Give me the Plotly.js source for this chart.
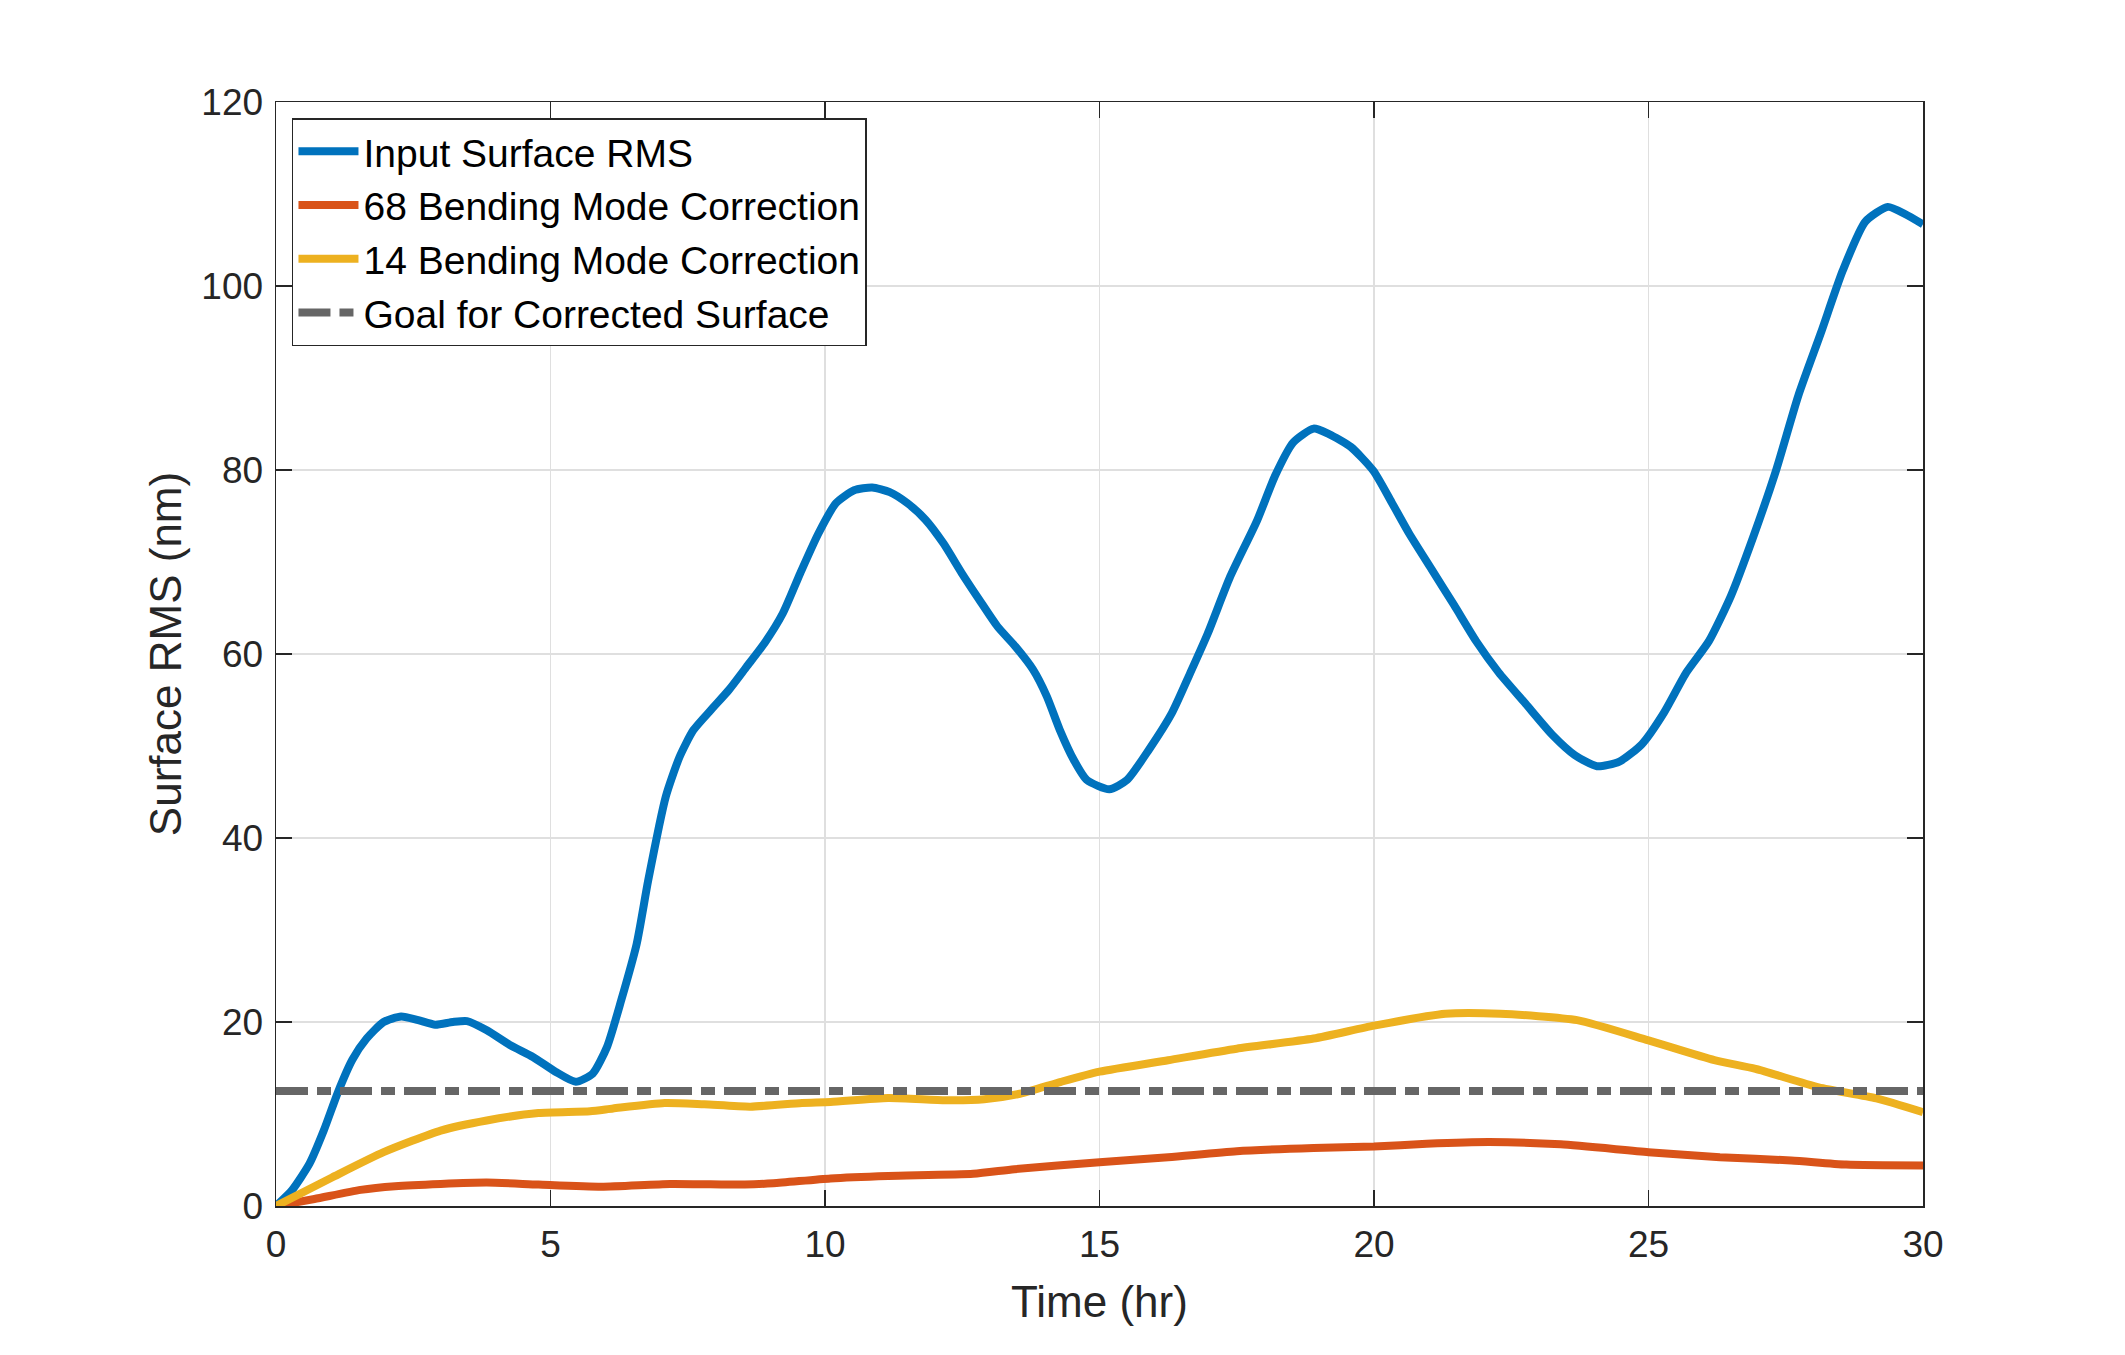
<!DOCTYPE html>
<html>
<head>
<meta charset="utf-8">
<script src="https://cdn.plot.ly/plotly-3.0.1.min.js"></script>
<style>
  html, body { margin: 0; padding: 0; background: #fff; }
  #chart { width: 2125px; height: 1355px; }
</style>
</head>
<body>
<div id="chart"></div>
<script>
// Input surface RMS (nm) vs time (hr)
var tInput = [0, 0.29, 0.61, 0.87, 1.13, 1.39, 1.65, 1.96, 2.28, 2.59, 2.9, 3.22, 3.48, 3.84, 4.26, 4.68, 5.09, 5.46, 5.77, 6.03, 6.29, 6.57, 6.78, 7.1, 7.35, 7.6, 7.92, 8.25, 8.57, 8.9, 9.23, 9.55, 9.88, 10.2, 10.53, 10.86, 11.18, 11.5, 11.83, 12.16, 12.49, 12.81, 13.14, 13.47, 13.79, 14.04, 14.28, 14.53, 14.77, 15.18, 15.5, 15.9, 16.32, 16.65, 16.97, 17.38, 17.87, 18.2, 18.53, 18.9, 19.18, 19.58, 19.99, 20.32, 20.64, 21.05, 21.46, 21.86, 22.27, 22.76, 23.25, 23.66, 24.06, 24.47, 24.88, 25.28, 25.69, 26.1, 26.5, 26.9, 27.32, 27.73, 28.14, 28.54, 28.95, 29.36, 29.68, 30];
var vInput = [0, 1.7, 4.6, 8.2, 12.4, 15.9, 18.2, 20.0, 20.6, 20.2, 19.7, 20.0, 20.1, 19.1, 17.5, 16.2, 14.6, 13.5, 14.4, 17.3, 22.4, 28.5, 35.4, 44.5, 48.8, 51.7, 53.9, 56.1, 58.6, 61.2, 64.4, 68.8, 73.1, 76.4, 77.8, 78.1, 77.6, 76.4, 74.6, 72.0, 68.8, 65.9, 63.0, 60.8, 58.3, 55.4, 51.7, 48.5, 46.3, 45.3, 46.3, 49.6, 53.6, 57.9, 62.2, 68.4, 74.5, 79.4, 83.0, 84.5, 83.9, 82.5, 79.9, 76.5, 73.1, 69.2, 65.3, 61.4, 58.0, 54.6, 51.2, 49.0, 47.8, 48.3, 50.2, 53.6, 58.0, 61.4, 66.3, 72.6, 79.9, 88.1, 94.9, 101.7, 107.0, 108.6, 107.8, 106.7];

// 68 bending mode correction
var t68 = [0, 0.7, 1.54, 2.17, 3.0, 3.84, 4.78, 5.93, 7.18, 8.54, 9.06, 10.1, 11.15, 12.7, 13.45, 15.0, 16.25, 17.5, 18.9, 20.0, 20.96, 22.1, 23.4, 25.0, 26.3, 27.6, 28.6, 30];
var v68 = [0, 0.76, 1.75, 2.15, 2.4, 2.55, 2.33, 2.1, 2.4, 2.33, 2.47, 3.0, 3.27, 3.5, 4.0, 4.76, 5.3, 5.96, 6.3, 6.47, 6.76, 6.95, 6.7, 5.85, 5.3, 4.95, 4.5, 4.4];

// 14 bending mode correction
var t14 = [0, 1.02, 1.96, 3.0, 3.84, 4.78, 5.72, 6.14, 7.08, 7.8, 8.64, 9.58, 10.1, 11.15, 12.2, 12.9, 13.55, 14.3, 15.0, 16.25, 17.5, 18.9, 20.0, 21.3, 22.3, 23.7, 25.0, 26.2, 26.95, 28.1, 29.15, 30];
var v14 = [0, 3.1, 5.85, 8.2, 9.3, 10.1, 10.3, 10.6, 11.2, 11.05, 10.8, 11.2, 11.3, 11.75, 11.5, 11.6, 12.2, 13.5, 14.6, 15.85, 17.1, 18.2, 19.6, 20.9, 20.9, 20.2, 18.0, 15.85, 14.9, 12.9, 11.7, 10.2];

// goal for corrected surface
var tGoal = [0, 30];
var vGoal = [12.5, 12.5];

var names = ['Input Surface RMS', '68 Bending Mode Correction', '14 Bending Mode Correction', 'Goal for Corrected Surface'];

var traces = [
  { x: tInput, y: vInput, name: names[0], mode: 'lines',
    line: { color: '#0072BD', width: 8, shape: 'spline', smoothing: 0.6 } },
  { x: t68, y: v68, name: names[1], mode: 'lines',
    line: { color: '#D95319', width: 8, shape: 'spline', smoothing: 0.6 } },
  { x: t14, y: v14, name: names[2], mode: 'lines',
    line: { color: '#EDB120', width: 8, shape: 'spline', smoothing: 0.6 } },
  { x: tGoal, y: vGoal, name: names[3], mode: 'lines',
    line: { color: '#666666', width: 8, dash: '32px,9px,14px,9px' } }
];

var axisFont = { family: 'Liberation Sans, Arial, sans-serif', size: 37, color: '#262626' };

var layout = {
  width: 2125,
  height: 1355,
  margin: { l: 276, r: 202, t: 102, b: 149 },
  paper_bgcolor: '#ffffff',
  plot_bgcolor: '#ffffff',
  font: axisFont,
  showlegend: true,
  xaxis: {
    range: [0, 30],
    dtick: 5,
    tick0: 0,
    showgrid: true,
    gridcolor: '#dfdfdf',
    gridwidth: 1.5,
    zeroline: false,
    showline: true,
    linecolor: '#262626',
    linewidth: 1.5,
    mirror: 'ticks',
    ticks: 'inside',
    ticklen: 16,
    tickwidth: 1.5,
    tickcolor: '#262626',
    tickfont: axisFont,
    ticklabelstandoff: 5,
    title: { text: 'Time (hr)', font: { family: axisFont.family, size: 44, color: '#262626' }, standoff: 22 }
  },
  yaxis: {
    range: [0, 120],
    dtick: 20,
    tick0: 0,
    showgrid: true,
    gridcolor: '#dfdfdf',
    gridwidth: 1.5,
    zeroline: false,
    showline: true,
    linecolor: '#262626',
    linewidth: 1.5,
    mirror: 'ticks',
    ticks: 'inside',
    ticklen: 16,
    tickwidth: 1.5,
    tickcolor: '#262626',
    tickfont: axisFont,
    ticklabelstandoff: 4,
    title: { text: 'Surface RMS (nm)', font: { family: axisFont.family, size: 44, color: '#262626' }, standoff: 6 }
  },
  legend: {
    x: 0.0097,
    y: 0.9855,
    xanchor: 'left',
    yanchor: 'top',
    bgcolor: '#ffffff',
    bordercolor: '#262626',
    borderwidth: 1.5,
    itemwidth: 60,
    font: { family: axisFont.family, size: 39, color: '#000000' },
    tracegroupgap: 0
  }
};

Plotly.newPlot('chart', traces, layout, { staticPlot: true, displayModeBar: false });
</script>
</body>
</html>
